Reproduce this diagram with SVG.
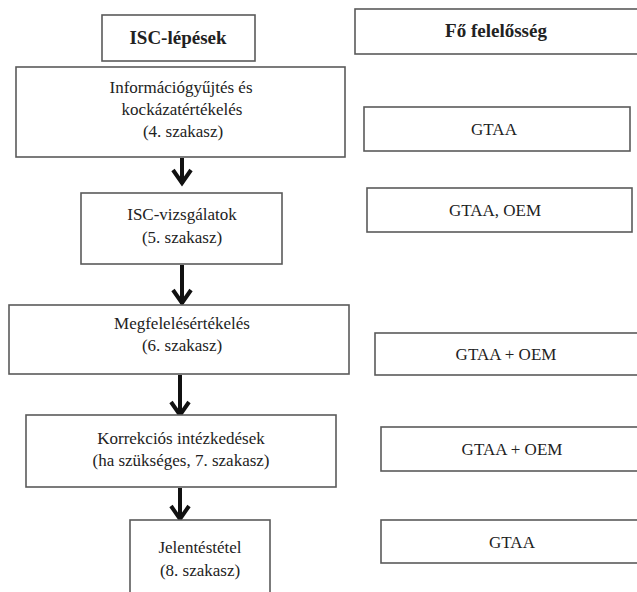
<svg xmlns="http://www.w3.org/2000/svg" width="637" height="592" viewBox="0 0 637 592">
<defs>
<style>
.box{fill:#fff;stroke:#5a5a5a;stroke-width:1.6}
.t{font-family:"Liberation Serif","Times New Roman",serif;font-size:17px;fill:#222;text-anchor:middle}
.b{font-weight:bold;font-size:19px}
.con{stroke:#111;stroke-width:4;fill:none}
</style>
<marker id="chev" markerUnits="userSpaceOnUse" viewBox="0 0 20 22" markerWidth="20" markerHeight="22" refX="17" refY="11" orient="auto">
<path d="M3 2 L16 11 L3 20" fill="none" stroke="#111" stroke-width="4" stroke-linejoin="miter"/>
</marker>
</defs>
<rect width="637" height="592" fill="#fff"/>
<g id="connectors">
<line class="con" x1="182" y1="158" x2="182" y2="184" marker-end="url(#chev)"/>
<line class="con" x1="182" y1="265" x2="182" y2="304" marker-end="url(#chev)"/>
<line class="con" x1="180" y1="375" x2="180" y2="416" marker-end="url(#chev)"/>
<line class="con" x1="180" y1="488" x2="180" y2="520" marker-end="url(#chev)"/>
</g>
<g id="hdr-left">
<rect class="box" x="102" y="15" width="153" height="46"/>
<text class="t b" x="178" y="44">ISC-lépések</text>
</g>
<g id="hdr-right">
<rect class="box" x="355" y="9" width="290" height="45"/>
<text class="t b" x="496" y="37">Fő felelősség</text>
</g>
<g id="step4">
<rect class="box" x="16" y="67" width="329" height="90"/>
<text class="t" x="181" y="93">Információgyűjtés és</text>
<text class="t" x="182" y="115">kockázatértékelés</text>
<text class="t" x="183" y="137">(4. szakasz)</text>
</g>
<g id="resp4">
<rect class="box" x="364" y="107" width="266" height="44"/>
<text class="t" x="494" y="135">GTAA</text>
</g>
<g id="step5">
<rect class="box" x="81" y="193" width="201" height="71"/>
<text class="t" x="182" y="220">ISC-vizsgálatok</text>
<text class="t" x="182" y="243">(5. szakasz)</text>
</g>
<g id="resp5">
<rect class="box" x="367" y="188" width="265" height="44"/>
<text class="t" x="495" y="216">GTAA, OEM</text>
</g>
<g id="step6">
<rect class="box" x="9" y="305" width="340" height="69"/>
<text class="t" x="182" y="329">Megfelelésértékelés</text>
<text class="t" x="182" y="351">(6. szakasz)</text>
</g>
<g id="resp6">
<rect class="box" x="375" y="333" width="270" height="42"/>
<text class="t" x="506" y="360">GTAA + OEM</text>
</g>
<g id="step7">
<rect class="box" x="26" y="415" width="310" height="72"/>
<text class="t" x="181" y="444">Korrekciós intézkedések</text>
<text class="t" x="181" y="466">(ha szükséges, 7. szakasz)</text>
</g>
<g id="resp7">
<rect class="box" x="381" y="427" width="264" height="44"/>
<text class="t" x="512" y="455">GTAA + OEM</text>
</g>
<g id="step8">
<rect class="box" x="130" y="520" width="140" height="100"/>
<text class="t" x="200" y="553">Jelentéstétel</text>
<text class="t" x="200" y="576">(8. szakasz)</text>
</g>
<g id="resp8">
<rect class="box" x="381" y="520" width="264" height="43"/>
<text class="t" x="512" y="548">GTAA</text>
</g>
</svg>
